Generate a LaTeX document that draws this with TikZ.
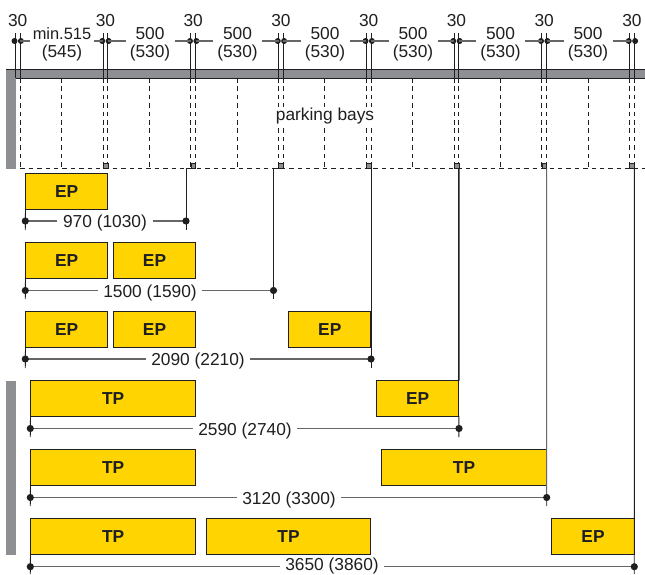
\documentclass[tikz,border=0pt]{standalone}
\usepackage{fontspec}
\setmainfont{Liberation Sans}
\definecolor{wallgray}{HTML}{8E8F92}
\definecolor{bay}{HTML}{FFD400}
\definecolor{ink}{HTML}{1F1F21}
\definecolor{dimgray}{HTML}{666668}
\tikzset{
  guide/.style={draw=ink,line width=0.65pt},
  dashguide/.style={draw=ink,line width=0.6pt,dash pattern=on 3.4pt off 2.9pt},
  dimline/.style={draw=dimgray,line width=0.9pt},
  label/.style={font=\fontsize{13pt}{13.5pt}\selectfont,text=ink,align=center,inner ysep=0pt,inner xsep=4pt},
  dimtext/.style={label,fill=white,text height=11pt,text depth=1pt},
  bayname/.style={font=\fontsize{13pt}{14pt}\selectfont\bfseries,text=ink},
  baybox/.style={draw=ink,line width=0.6pt,fill=bay,inner sep=0pt,outer sep=0pt,bayname},
  walldraw/.style={fill=wallgray},
  dimdot/.style={fill=ink},
}
\newcommand{\ybox}[6]{%
  \node[baybox,minimum width={(#4-#2)*0.75pt-0.25pt},minimum height={(#5-#3)*0.75pt-0.25pt}] (#1) at ({(#2+#4)/2},{(#3+#5)/2-0.3}) {#6};}
\newcommand{\dimrow}[7]{% name, xleft, xright, y, xlabel, extra keys, text
  \coordinate (#1L) at (#2,#4);
  \coordinate (#1R) at (#3,#4);
  \node[dimtext,#6] (#1T) at (#5,#4) {#7};
  \draw[dimline] (#1L) -- (#1T) -- (#1R);
  \fill[dimdot] (#1L) circle (3.6);
  \fill[dimdot] (#1R) circle (3.6);
}
\begin{document}
\begin{tikzpicture}[x=0.75pt,y=-0.75pt]
\useasboundingbox (0,0) rectangle (645,574);
% walls
\fill[walldraw] (6.3,69.5) rectangle (15.5,169);
\fill[walldraw] (6.3,69.5) rectangle (645,78);
\fill[walldraw] (6.3,380.5) rectangle (15.5,554.5);
\draw[ink,line width=0.8pt] (6.3,69.5) -- (645,69.5);
\draw[ink,line width=0.4pt] (15.5,78) -- (645,78);
% bottom edge of parking bays
\coordinate (edgeL) at (20.3,168.7);
\coordinate (edgeR) at (645,168.7);
\draw[dashguide] (edgeL) -- (edgeR);
% guide pairs
\foreach \i [evaluate=\i as \xa using {15.3+(\i-1)*87.75},evaluate=\i as \xb using {20.1+(\i-1)*87.75}] in {1,...,8}{
  \coordinate (ta\i) at (\xa,33);
  \coordinate (tb\i) at (\xb,33);
  \coordinate (wa\i) at (\xa,78);
  \coordinate (wb\i) at (\xb,78);
  \coordinate (fa\i) at (\xa,168.7);
  \coordinate (fb\i) at (\xb,168.7);
  \coordinate (da\i) at (\xa,41);
  \coordinate (db\i) at (\xb,41);
  \draw[guide] (ta\i) -- (wa\i);
  \draw[guide] (tb\i) -- (wb\i);
  \draw[dashguide] (wb\i) -- (fb\i);
  \ifnum\i>1
    \draw[dashguide] (wa\i) -- (fa\i);
    \draw[draw=ink,line width=0.4pt,fill=wallgray] (\xa,163.3) rectangle (\xb,168.7);
  \fi
  \fill[dimdot] (da\i) ++(-0.8,0) circle (3);
  \fill[dimdot] (db\i) ++(0.8,0) circle (3);
  \node[label] (n\i) at ({(\xa+\xb)/2},20.5) {30};
}
% mid bay dashes
\foreach \i/\x in {1/61.7,2/149.3,3/237,4/324.8,5/412.5,6/500.3,7/588}{
  \coordinate (ma\i) at (\x,78);
  \coordinate (mb\i) at (\x,168.7);
  \draw[dashguide] (ma\i) -- (mb\i);
}
\node[label,fill=white,inner xsep=1pt,inner ysep=1pt] (parking) at (325,116) {parking bays};
% upper dimension labels
\node[label,inner xsep=0pt] (w1) at (62,44.5) {\fontsize{12.3pt}{13.5pt}\selectfont min.515\\(545)};
\foreach \i/\x in {2/150,3/237.5,4/325,5/413,6/500.5,7/588}{
  \node[label,inner xsep=0pt] (w\i) at (\x,44.5) {500\\(530)};
}
\draw[dimline] (db1) -- ([xshift=-2pt]db1 -| w1.west);
\draw[dimline] ([xshift=2pt]da2 -| w1.east) -- (da2);
\foreach \i [evaluate=\i as \j using {int(\i+1)}] in {2,...,7}{
  \draw[dimline] (db\i) -- ([xshift=-3pt]db\i -| w\i.west);
  \draw[dimline] ([xshift=3pt]da\j -| w\i.east) -- (da\j);
}
% bays
\ybox{a1}{25.3}{173.5}{108}{209.5}{EP}
\ybox{b1}{25.3}{242.5}{108}{278.5}{EP}
\ybox{b2}{113}{242.5}{196}{278.5}{EP}
\ybox{c1}{25.3}{311.5}{108}{347.5}{EP}
\ybox{c2}{113}{311.5}{196}{347.5}{EP}
\ybox{c3}{288.5}{311.5}{371}{347.5}{EP}
\ybox{d1}{30.3}{380.7}{196}{416.7}{TP}
\ybox{d2}{376.3}{380.7}{459}{416.7}{EP}
\ybox{e1}{30.3}{449.7}{196}{485.7}{TP}
\ybox{e2}{381.3}{449.7}{546.7}{485.7}{TP}
\ybox{f1}{30.3}{518.7}{196}{554.7}{TP}
\ybox{f2}{206}{518.7}{371}{554.7}{TP}
\ybox{f3}{551.7}{518.7}{634.3}{554.7}{EP}
% overall dimensions
\coordinate (tickA) at (186,168.7);
\coordinate (tickB) at (273.5,168.7);
\draw[guide] (fa3) -- (tickA) -- (186,230);
\draw[guide] (fa4) -- (tickB) -- (273.5,299);
\draw[guide] (c1.south west) -- (25.3,368);
\draw[guide] (b1.south west) -- (25.3,299);
\draw[guide] (a1.south west) -- (25.3,230);
\draw[guide] (fb5) -- (371.1,368);
\draw[ink,line width=1.1pt] (fb6) -- (458.9,380.7);
\draw[guide] (d2.south east) -- (458.9,437);
\draw[dimgray,line width=0.8pt] (fb7) -- (546.7,506);
\draw[guide] (fb8) -- (634.3,574);
\draw[guide] (d1.south west) -- (30.3,437);
\draw[guide] (e1.south west) -- (30.3,506);
\draw[guide] (f1.south west) -- (30.3,574);
\dimrow{r1}{25.3}{186}{221}{105}{}{970 (1030)}
\dimrow{r2}{25.3}{273.5}{290.5}{150}{}{1500 (1590)}
\dimrow{r3}{25.3}{371}{359}{198}{}{2090 (2210)}
\dimrow{r4}{30.3}{459}{428.5}{245}{}{2590 (2740)}
\dimrow{r5}{30.3}{546.7}{497.5}{289}{}{3120 (3300)}
\dimrow{r6}{30.3}{634.3}{566.7}{332}{text height=6.2pt}{3650 (3860)}
\end{tikzpicture}
\end{document}
